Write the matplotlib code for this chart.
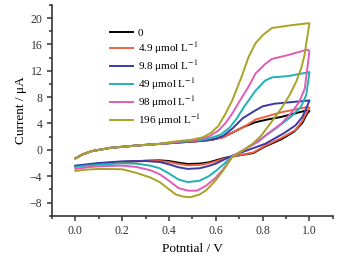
import matplotlib
matplotlib.use("Agg")
import matplotlib.pyplot as plt
from matplotlib.ticker import MultipleLocator

# ---- data: CV loops (forward scan 0 -> 1.0 V, then back to 0) ----
labels = ["0", "4.9 μmol L$^{-1}$", "9.8 μmol L$^{-1}$",
          "49 μmol L$^{-1}$", "98 μmol L$^{-1}$", "196 μmol L$^{-1}$"]
colors = ["#000000", "#EE6040", "#3A3AA6", "#1EB2B4", "#E05CB8", "#A8A226"]

# shared low-potential part of the return scan
base_e = [0.36, 0.26, 0.15, 0.07, 0.03, 0.0]
base_i = [0.9, 0.65, 0.3, -0.2, -0.7, -1.3]

e_0 = [0, 0.05, 0.1, 0.2, 0.3, 0.36, 0.40, 0.44, 0.48, 0.53, 0.57, 0.60, 0.64, 0.69,
       0.76, 0.81, 0.88, 0.936, 0.97, 0.99, 1.0,
       0.99, 0.88, 0.82, 0.77, 0.72, 0.67, 0.63, 0.58, 0.52, 0.46] + base_e
i_0 = [-2.5, -2.3, -2.1, -1.85, -1.65, -1.6, -1.7, -1.95, -2.15, -2.1, -1.9, -1.6, -1.2, -0.9,
       -0.5, 0.5, 1.6, 2.8, 4.1, 5.5, 5.9,
       6.0, 5.0, 4.6, 4.2, 3.5, 2.6, 1.9, 1.5, 1.3, 1.15] + base_i

e_49 = [0, 0.05, 0.1, 0.2, 0.3, 0.36, 0.40, 0.44, 0.48, 0.53, 0.57, 0.60, 0.64, 0.69,
        0.76, 0.81, 0.88, 0.94, 0.97, 0.99, 1.0,
        0.99, 0.88, 0.82, 0.77, 0.73, 0.67, 0.63, 0.58, 0.52, 0.46] + base_e
i_49 = [-2.5, -2.3, -2.1, -1.85, -1.7, -1.7, -1.85, -2.15, -2.35, -2.3, -2.05, -1.75, -1.3, -0.9,
        -0.4, 0.6, 1.8, 3.0, 4.4, 5.8, 6.4,
        6.5, 5.7, 5.1, 4.6, 3.7, 2.6, 1.9, 1.5, 1.3, 1.15] + base_i

e_98 = [0, 0.05, 0.1, 0.2, 0.3, 0.36, 0.40, 0.44, 0.48, 0.53, 0.57, 0.60, 0.64, 0.67,
        0.74, 0.81, 0.89, 0.94, 0.97, 0.99, 1.0,
        0.94, 0.85, 0.80, 0.77, 0.715, 0.67, 0.63, 0.59, 0.53, 0.46] + base_e
i_98 = [-2.4, -2.2, -2.0, -1.75, -1.7, -1.85, -2.2, -2.65, -2.9, -2.8, -2.45, -2.1, -1.4, -0.9,
        0.0, 0.9, 2.5, 3.7, 5.0, 6.6, 7.5,
        7.3, 7.0, 6.6, 6.0, 4.8, 3.2, 2.1, 1.6, 1.35, 1.2] + base_i

e_490 = [0, 0.05, 0.1, 0.2, 0.26, 0.32, 0.36, 0.40, 0.44, 0.48, 0.53, 0.57, 0.60, 0.63, 0.67,
         0.73, 0.795, 0.866, 0.92, 0.963, 0.986, 0.995, 1.0,
         0.91, 0.84, 0.81, 0.77, 0.75, 0.72, 0.69, 0.66, 0.62, 0.57, 0.52, 0.46] + base_e
i_490 = [-2.6, -2.4, -2.25, -2.05, -2.1, -2.4, -2.8, -3.6, -4.5, -4.9, -4.7, -4.0, -3.2, -2.3, -1.0,
         0.2, 1.7, 3.5, 5.0, 6.5, 8.3, 10.5, 11.8,
         11.2, 11.0, 10.5, 9.0, 8.0, 6.5, 4.8, 3.4, 2.3, 1.7, 1.4, 1.25] + base_i

e_980 = [0, 0.05, 0.1, 0.2, 0.26, 0.32, 0.36, 0.40, 0.44, 0.48, 0.52, 0.56, 0.60, 0.63, 0.67,
         0.72, 0.78, 0.82, 0.88, 0.92, 0.957, 0.98, 0.99, 1.0,
         0.99, 0.91, 0.84, 0.81, 0.77, 0.74, 0.70, 0.67, 0.64, 0.61, 0.57, 0.52, 0.46] + base_e
i_980 = [-2.9, -2.65, -2.5, -2.4, -2.6, -3.1, -3.7, -4.7, -5.8, -6.2, -6.2, -5.4, -4.2, -3.0, -1.0,
         0.0, 1.2, 2.4, 4.0, 5.5, 7.3, 9.3, 12.1, 15.0,
         15.2, 14.4, 13.8, 13.0, 11.6, 9.6, 7.3, 5.5, 4.0, 2.9, 2.0, 1.5, 1.3] + base_i

e_1960 = [0, 0.05, 0.1, 0.2, 0.26, 0.32, 0.36, 0.40, 0.43, 0.46, 0.49, 0.53, 0.56, 0.60, 0.63, 0.67,
          0.72, 0.76, 0.795, 0.837, 0.88, 0.915, 0.943, 0.965, 0.979, 0.99, 1.0,
          0.99, 0.92, 0.84, 0.80, 0.77, 0.74, 0.71, 0.67, 0.64, 0.61, 0.58, 0.545, 0.50, 0.46, 0.40] + base_e
i_1960 = [-3.2, -3.0, -2.9, -2.95, -3.5, -4.2, -4.9, -6.0, -6.8, -7.1, -7.2, -6.8, -6.1, -4.6, -3.2, -1.1,
          0.0, 1.0, 2.2, 4.2, 6.3, 8.3, 10.3, 12.4, 14.4, 17.0, 19.2,
          19.2, 18.9, 18.5, 17.4, 16.2, 14.1, 11.1, 7.5, 5.4, 3.6, 2.6, 1.9, 1.55, 1.4, 1.15] + base_i

potentials = [e_0, e_49, e_98, e_490, e_980, e_1960]
currents = [i_0, i_49, i_98, i_490, i_980, i_1960]

# ---- style ----
plt.rcParams['font.family'] = ['Liberation Serif', 'DejaVu Serif']
plt.rcParams['mathtext.fontset'] = 'stix'
plt.rcParams['font.size'] = 8.5

fig = plt.figure(figsize=(3.4, 2.58), dpi=100)
ax = fig.add_axes([0.153, 0.164, 0.826, 0.817])

for e, i, c, lab in zip(potentials, currents, colors, labels):
    ax.plot(e, i, color=c, lw=1.4, label=lab)

ax.set_xlim(-0.1, 1.1)
ax.set_ylim(-10, 22)
ax.xaxis.set_major_locator(MultipleLocator(0.2))
ax.xaxis.set_minor_locator(MultipleLocator(0.1))
ax.yaxis.set_major_locator(MultipleLocator(4))
ax.yaxis.set_minor_locator(MultipleLocator(2))
ax.xaxis.set_major_formatter(plt.FuncFormatter(lambda v, p: f"{v:.1f}"))

for side in ['top', 'right']:
    ax.spines[side].set_visible(False)
for side in ['left', 'bottom']:
    ax.spines[side].set_linewidth(1.2)
    ax.spines[side].set_color('#333333')
ax.tick_params(which='major', direction='out', length=3.5, width=1.1, colors='#333333', labelsize=8.5)
ax.tick_params(which='minor', direction='out', length=2, width=1.1, colors='#333333')

ax.set_xlabel('Potntial / V', fontsize=9.5, labelpad=4)
ax.set_ylabel('Current / μA', fontsize=9.5, labelpad=2)

ax.legend(loc='upper left', bbox_to_anchor=(110 / 340, 1 - 28 / 258),
          bbox_transform=fig.transFigure, frameon=False, fontsize=8,
          handlelength=2.1, handletextpad=0.4, labelspacing=0.2,
          borderpad=0, borderaxespad=0)

fig.savefig('out.png', dpi=100)
